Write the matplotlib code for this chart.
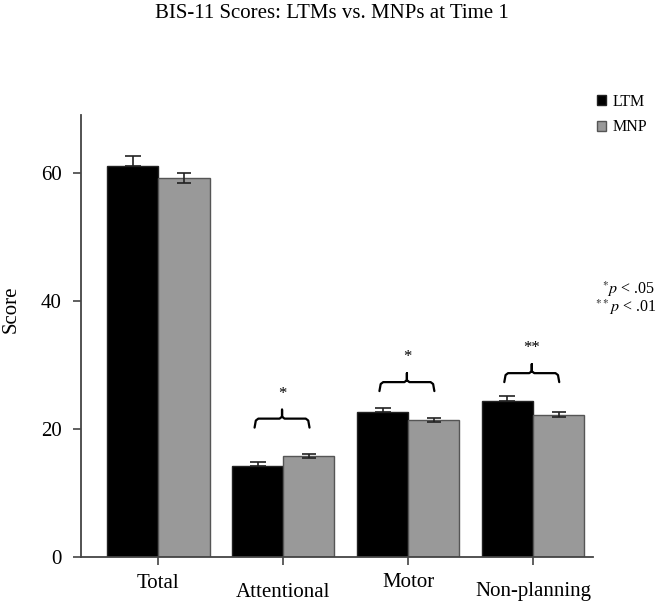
import matplotlib
matplotlib.use("Agg")
import matplotlib.pyplot as plt
import numpy as np

categories = ["Total", "Attentional", "Motor", "Non-planning"]
ltm = [61.1, 14.2, 22.6, 24.4]
ltm_err = [1.5, 0.6, 0.6, 0.8]
mnp = [59.2, 15.8, 21.4, 22.2]
mnp_err = [0.8, 0.3, 0.3, 0.4]
yticks = [0, 20, 40, 60]
# significance brackets: (group index, bracket y, label)
sig_groups = [1, 2, 3]
sig_y = [21.6, 27.3, 28.7]
sig_labels = ["*", "*", "**"]

plt.rcParams["font.family"] = ["Liberation Serif", "DejaVu Serif"]
plt.rcParams["mathtext.fontset"] = "stix"

fig = plt.figure(figsize=(6.64, 6.01), dpi=100)
ax = fig.add_axes([0.122, 0.0732, 0.771, 0.7355])

x = np.arange(len(categories))
w = 0.41
ax.bar(x - w / 2, ltm, w, color="black", edgecolor="#222222", linewidth=1,
       label="LTM", zorder=2)
ax.bar(x + w / 2, mnp, w, color="#999999", edgecolor="#555555", linewidth=1,
       label="MNP", zorder=2)
ax.errorbar(x - w / 2, ltm, yerr=[np.zeros(len(ltm)), ltm_err], fmt="none",
            ecolor="#222222", elinewidth=1.2, capsize=6, capthick=1.2, zorder=3)
ax.errorbar(x + w / 2, mnp, yerr=mnp_err, fmt="none",
            ecolor="#222222", elinewidth=1.2, capsize=5, capthick=1.2, zorder=3)

for g, yb, lab in zip(sig_groups, sig_y, sig_labels):
    x0, x1 = g - 0.23, g + 0.21
    xm = (x0 + x1) / 2
    ax.plot([x0, x0 + 0.01, x0 + 0.03, xm - 0.02, xm, xm, xm, xm + 0.02,
             x1 - 0.03, x1 - 0.01, x1],
            [yb - 1.4, yb - 0.3, yb, yb, yb + 0.3, yb + 1.4, yb + 0.3, yb,
             yb, yb - 0.3, yb - 1.4],
            color="black", linewidth=1.6, solid_joinstyle="round",
            solid_capstyle="round", zorder=3)
    ax.text(xm, yb + 2.6, lab, ha="center", va="bottom", fontsize=12)

ax.set_xlim(-0.62, 3.48)
ax.set_ylim(0, 69)
ax.set_yticks(yticks)
ax.set_yticklabels([str(t) for t in yticks], fontsize=15)
ax.set_xticks(x)
ax.set_xticklabels([])
label_offsets = [-0.0701, -0.0905, -0.0679, -0.0882]
for xi, lab, off in zip(x, categories, label_offsets):
    ax.text(xi, off, lab, transform=ax.get_xaxis_transform(), ha="center",
            va="baseline", fontsize=15)

for s in ["top", "right"]:
    ax.spines[s].set_visible(False)
for s in ["left", "bottom"]:
    ax.spines[s].set_color("#444444")
    ax.spines[s].set_linewidth(1.3)
ax.tick_params(axis="both", direction="out", length=6, width=1.2, color="#444444",
               pad=8)
ax.set_ylabel("Score", fontsize=15)
ax.yaxis.set_label_coords(-0.118, 0.561)

fig.text(0.5, 0.977, "BIS-11 Scores: LTMs vs. MNPs at Time 1", ha="center",
         va="center", fontsize=15)

leg = fig.legend(handles=ax.get_legend_handles_labels()[0],
                 labels=["LTM", "MNP"], loc="upper left",
                 bbox_to_anchor=(0.877, 0.868), frameon=False, fontsize=11.5,
                 handlelength=0.6, handleheight=0.6, handletextpad=0.4,
                 labelspacing=0.6)

fig.text(0.987, 0.519, r"$^{*}p$ < .05", ha="right", va="center", fontsize=11.5)
fig.text(0.989, 0.489, r"$^{**}p$ < .01", ha="right", va="center", fontsize=11.5)

fig.savefig("out.png", dpi=100)
